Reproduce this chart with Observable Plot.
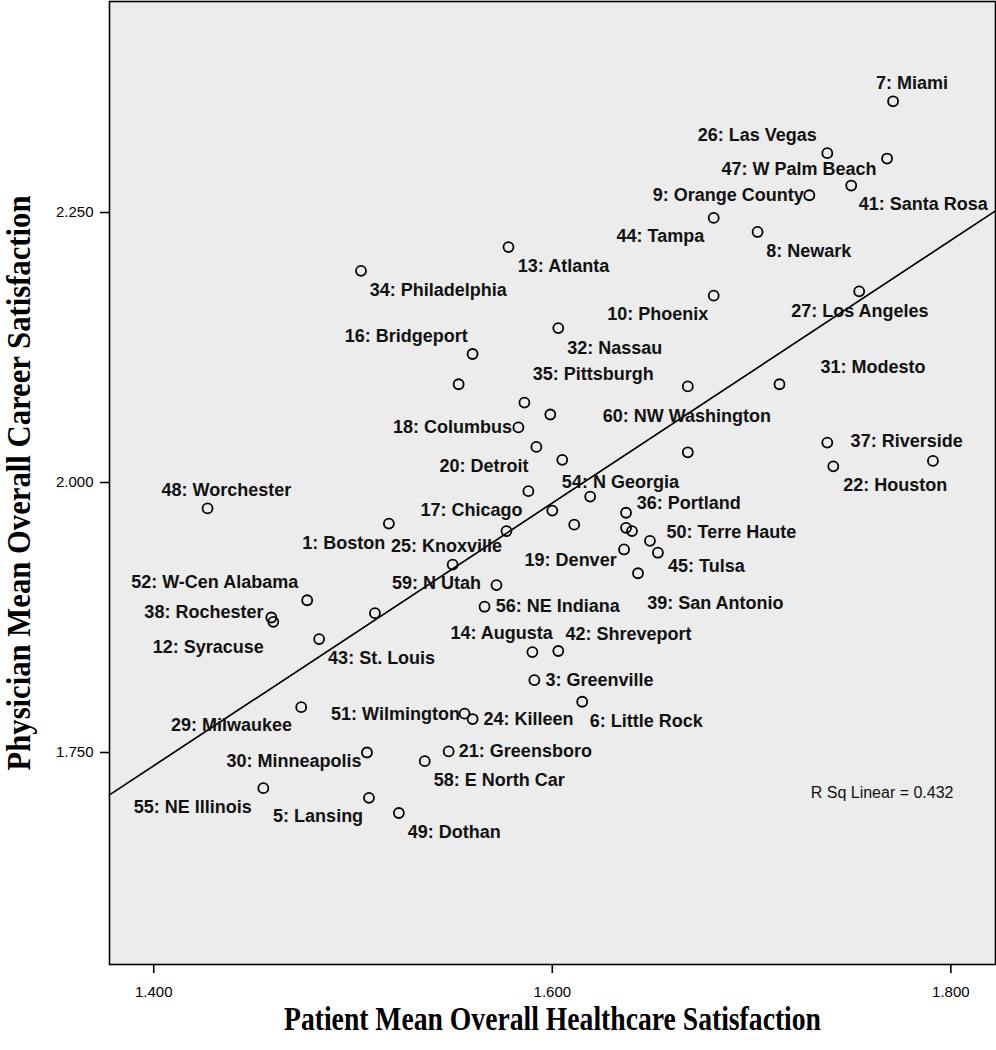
<!DOCTYPE html>
<html>
<head>
<meta charset="utf-8">
<script src="https://cdn.jsdelivr.net/npm/d3@7"></script>
<script src="https://cdn.jsdelivr.net/npm/@observablehq/plot@0.6"></script>
<style>
  html, body { margin: 0; padding: 0; background: #ffffff; }
  #chart { width: 996px; height: 1050px; }
</style>
</head>
<body>
<div id="chart"></div>
<script>
// Patient (x) and physician (y) mean satisfaction for each community
const patientSat = [
  1.771, 1.738, 1.768, 1.750, 1.729, 1.681, 1.703, 1.681, 1.754, 1.578,
  1.504, 1.603, 1.560, 1.553, 1.668, 1.714, 1.586, 1.599, 1.583, 1.738,
  1.592, 1.605, 1.668, 1.741, 1.791, 1.588, 1.619, 1.427, 1.600, 1.637,
  1.518, 1.611, 1.637, 1.640, 1.577, 1.649, 1.636, 1.653, 1.550, 1.643,
  1.572, 1.477, 1.566, 1.511, 1.459, 1.460, 1.483, 1.590, 1.603, 1.591,
  1.615, 1.474, 1.556, 1.560, 1.507, 1.548, 1.536, 1.455, 1.508, 1.523
];
const physicianSat = [
  2.353, 2.305, 2.300, 2.275, 2.266, 2.245, 2.232, 2.173, 2.177, 2.218,
  2.196, 2.143, 2.119, 2.091, 2.089, 2.091, 2.074, 2.063, 2.051, 2.037,
  2.033, 2.021, 2.028, 2.015, 2.020, 1.992, 1.987, 1.976, 1.974, 1.972,
  1.962, 1.961, 1.958, 1.955, 1.955, 1.946, 1.938, 1.935, 1.924, 1.916,
  1.905, 1.891, 1.885, 1.879, 1.875, 1.871, 1.855, 1.843, 1.844, 1.817,
  1.797, 1.792, 1.786, 1.781, 1.750, 1.751, 1.742, 1.717, 1.708, 1.694
];

// Point labels and where they sit (in data units)
const labelText = [
  "7: Miami", "26: Las Vegas", "47: W Palm Beach", "9: Orange County", "41: Santa Rosa",
  "44: Tampa", "8: Newark", "13: Atlanta", "34: Philadelphia", "10: Phoenix",
  "27: Los Angeles", "16: Bridgeport", "32: Nassau", "35: Pittsburgh", "31: Modesto",
  "60: NW Washington", "18: Columbus", "37: Riverside", "20: Detroit", "22: Houston",
  "54: N Georgia", "48: Worchester", "36: Portland", "17: Chicago", "1: Boston",
  "25: Knoxville", "50: Terre Haute", "19: Denver", "45: Tulsa", "52: W-Cen Alabama",
  "59: N Utah", "38: Rochester", "56: NE Indiana", "39: San Antonio", "12: Syracuse",
  "43: St. Louis", "14: Augusta", "42: Shreveport", "3: Greenville", "51: Wilmington",
  "24: Killeen", "6: Little Rock", "29: Milwaukee", "21: Greensboro", "30: Minneapolis",
  "58: E North Car", "55: NE Illinois", "5: Lansing", "49: Dothan"
];
const labelX = [
  1.7624, 1.6730, 1.6849, 1.6504, 1.7538,
  1.6322, 1.7073, 1.5827, 1.5084, 1.6276,
  1.7199, 1.4959, 1.6075, 1.5902, 1.7346,
  1.6253, 1.5200, 1.7497, 1.5434, 1.7460,
  1.6048, 1.4039, 1.6424, 1.5339, 1.4745,
  1.5191, 1.6573, 1.5861, 1.6581, 1.3887,
  1.5196, 1.3953, 1.5716, 1.6476, 1.3995,
  1.4875, 1.5489, 1.6066, 1.5966, 1.4890,
  1.5655, 1.6188, 1.4087, 1.5531, 1.4365,
  1.5405, 1.3900, 1.4599, 1.5275
];
const labelY = [
  2.3697, 2.3213, 2.2905, 2.2657, 2.2574,
  2.2278, 2.2139, 2.2003, 2.1784, 2.1560,
  2.1586, 2.1358, 2.1247, 2.1000, 2.1065,
  2.0611, 2.0512, 2.0380, 2.0148, 1.9972,
  2.0003, 1.9926, 1.9808, 1.9741, 1.9438,
  1.9410, 1.9540, 1.9278, 1.9222, 1.9077,
  1.9068, 1.8799, 1.8852, 1.8886, 1.8475,
  1.8377, 1.8605, 1.8599, 1.8167, 1.7858,
  1.7812, 1.7790, 1.7750, 1.7509, 1.7417,
  1.7241, 1.6994, 1.6907, 1.6762
];

const xTicks = [1.4, 1.6, 1.8];
const yTicks = [1.75, 2.0, 2.25];
const xDomain = [1.3778, 1.8224];
const yDomain = [1.5537, 2.4454];
const xTitle = "Patient Mean Overall Healthcare Satisfaction";
const yTitle = "Physician Mean Overall Career Satisfaction";
const fitText = "R Sq Linear = 0.432";

// Build tables
const points = patientSat.map((x, i) => ({x, y: physicianSat[i]}));
const labels = labelText.map((t, i) => ({t, x: labelX[i], y: labelY[i]}));

// Linear fit over the full axis range
const mx = d3.mean(points, d => d.x), my = d3.mean(points, d => d.y);
const slope = d3.sum(points, d => (d.x - mx) * (d.y - my)) / d3.sum(points, d => (d.x - mx) ** 2);
const intercept = my - slope * mx;
const fit = xDomain.map(x => ({x, y: intercept + slope * x}));

const sans = "'Liberation Sans', Arial, Helvetica, sans-serif";
const serif = "'Liberation Serif', 'Times New Roman', serif";

const chart = Plot.plot({
  width: 996,
  height: 1050,
  marginLeft: 109,
  marginRight: 1,
  marginTop: 1,
  marginBottom: 86,
  style: {background: "#ffffff", fontFamily: sans, color: "#000"},
  x: {domain: xDomain},
  y: {domain: yDomain},
  marks: [
    Plot.frame({fill: "#ececec"}),
    Plot.line(fit, {x: "x", y: "y", stroke: "#000", strokeWidth: 1.7}),
    Plot.dot(points, {x: "x", y: "y", r: 5, stroke: "#000", strokeWidth: 1.8, fill: "none"}),
    Plot.text(labels, {x: "x", y: "y", text: "t", textAnchor: "start", fontSize: 18,
      fontWeight: "bold", fontFamily: sans, fill: "#111"}),
    Plot.text([fitText], {frameAnchor: "bottom-right", dx: -42, dy: -167, textAnchor: "end",
      fontSize: 16, fontFamily: sans, fill: "#111"}),
    Plot.frame({stroke: "#000", strokeWidth: 1.6}),
    Plot.axisX({ticks: xTicks, tickFormat: d3.format(".3f"), tickSize: 9, tickPadding: 13,
      fontSize: 15, label: null, strokeWidth: 1.6}),
    Plot.axisY({ticks: yTicks, tickFormat: d3.format(".3f"), tickSize: 9, tickPadding: 7,
      fontSize: 15, label: null, strokeWidth: 1.6}),
    Plot.text([xTitle], {frameAnchor: "bottom", dy: 65, fontSize: 33, fontWeight: "bold",
      textAnchor: "middle", fontFamily: serif, fill: "#000", className: "xtitle"}),
    Plot.text([yTitle], {frameAnchor: "left", dx: -90, rotate: -90, fontSize: 33, fontWeight: "bold",
      textAnchor: "middle", fontFamily: serif, fill: "#000", className: "ytitle"})
  ]
});

// Condense the Times-style axis titles to the reference's lengths
chart.querySelectorAll(".xtitle text").forEach(t => {
  t.setAttribute("textLength", 537);
  t.setAttribute("lengthAdjust", "spacingAndGlyphs");
});
chart.querySelectorAll(".ytitle text").forEach(t => {
  t.setAttribute("textLength", 575);
  t.setAttribute("lengthAdjust", "spacingAndGlyphs");
});

document.getElementById("chart").appendChild(chart);
</script>
</body>
</html>
